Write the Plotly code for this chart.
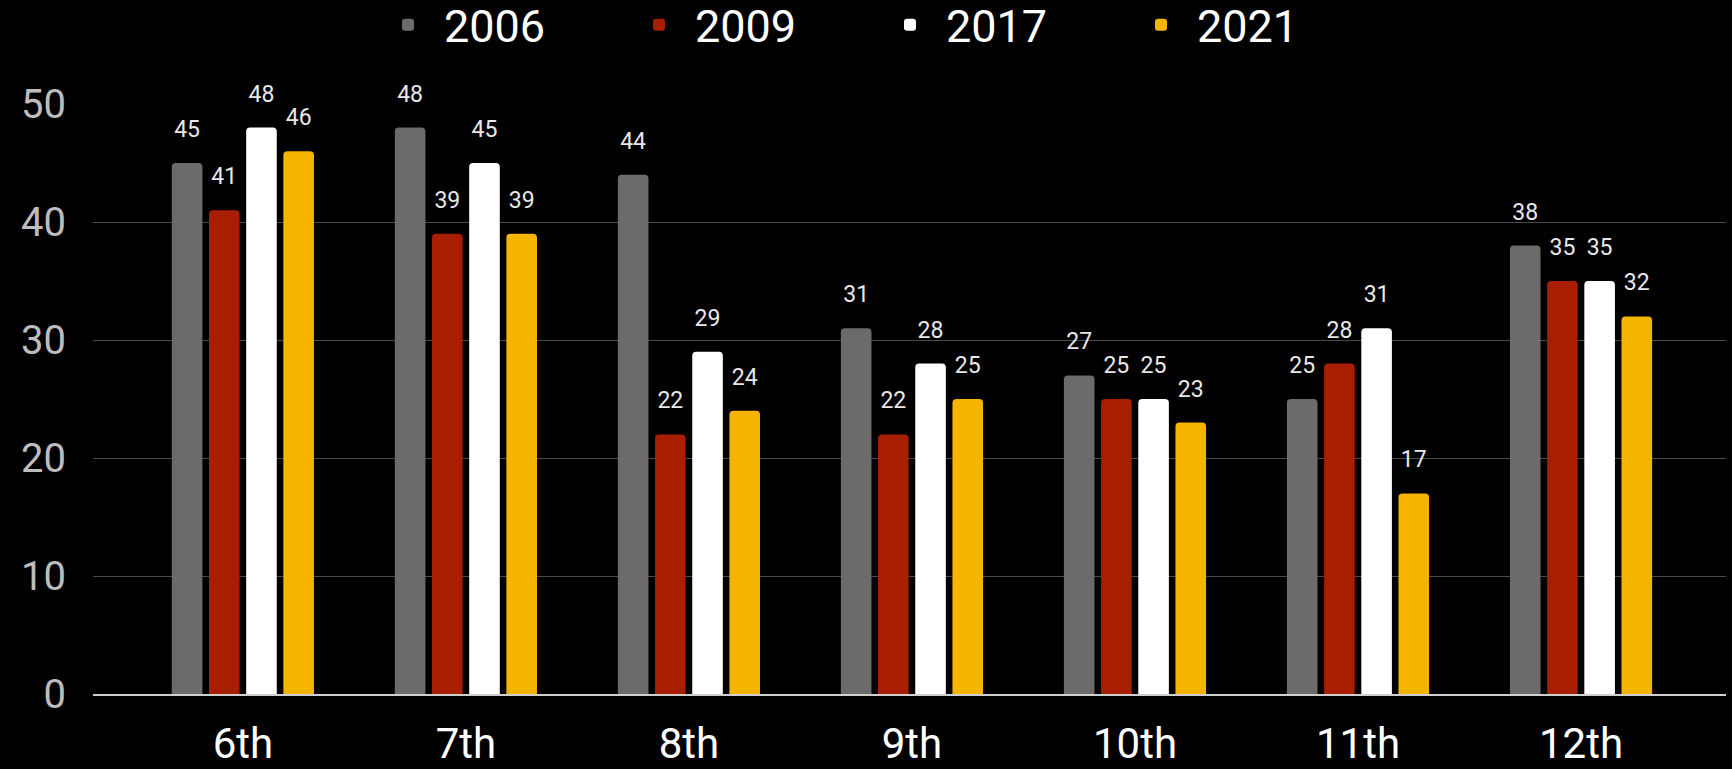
import plotly.graph_objects as go

grades = ["6th", "7th", "8th", "9th", "10th", "11th", "12th"]
years = ["2006", "2009", "2017", "2021"]
v2006 = [45, 48, 44, 31, 27, 25, 38]
v2009 = [41, 39, 22, 22, 25, 28, 35]
v2017 = [48, 45, 29, 28, 25, 31, 35]
v2021 = [46, 39, 24, 25, 23, 17, 32]
y_ticks = [0, 10, 20, 30, 40, 50]

series = [v2006, v2009, v2017, v2021]
colors = ["#6b6b6b", "#a81e00", "#ffffff", "#f4b400"]

fig = go.Figure()
for name, vals, col in zip(years, series, colors):
    fig.add_trace(go.Bar(
        x=grades, y=vals, name=name,
        marker=dict(color=col, line=dict(width=0), cornerradius=4),
        text=vals,
        texttemplate="<span style='font-size:23px'>%{text}</span><br><span style='font-size:4px'>&nbsp;</span>",
        textposition="outside",
        constraintext="none",
        cliponaxis=False,
        textfont=dict(family="Roboto", size=17, color="#e8e8e8"),
    ))

W, H = 1732, 769
ml, mr, mt, mb = 93, 6, 104, 75
ph = H - mt - mb

fig.update_layout(
    width=W, height=H,
    barmode="group", bargap=0.333, bargroupgap=0.177,
    paper_bgcolor="#000000", plot_bgcolor="#000000",
    margin=dict(l=ml, r=mr, t=mt, b=mb, autoexpand=False),
    font=dict(family="Roboto", color="#ffffff"),
    showlegend=True,
    legend=dict(
        orientation="h", x=(372 - ml) / (W - ml - mr), xanchor="left",
        y=1 + (mt - 25) / ph, yanchor="middle",
        font=dict(family="Roboto", size=45, color="#ffffff"),
        bgcolor="rgba(0,0,0,0)", itemwidth=62, tracegroupgap=0,
        entrywidth=174, entrywidthmode="pixels",
    ),
    xaxis=dict(
        range=[-0.672, 6.65], showgrid=False,
        showline=True, linecolor="#cfcfcf", linewidth=2,
        tickfont=dict(family="Roboto", size=42, color="#ffffff"),
        ticks="", ticklabelstandoff=12,
    ),
    yaxis=dict(
        range=[0, 50], tickvals=y_ticks,
        showgrid=True, gridcolor="#4a4a4a", gridwidth=1,
        zeroline=False, showline=False,
        tickfont=dict(family="Roboto", size=40, color="#bdbdbd"),
        ticks="", ticklabelstandoff=26,
    ),
)

fig.write_html(
    "out.html",
    config={"displayModeBar": False},
    post_script="document.body.style.margin='0';document.body.style.background='#000';",
)
